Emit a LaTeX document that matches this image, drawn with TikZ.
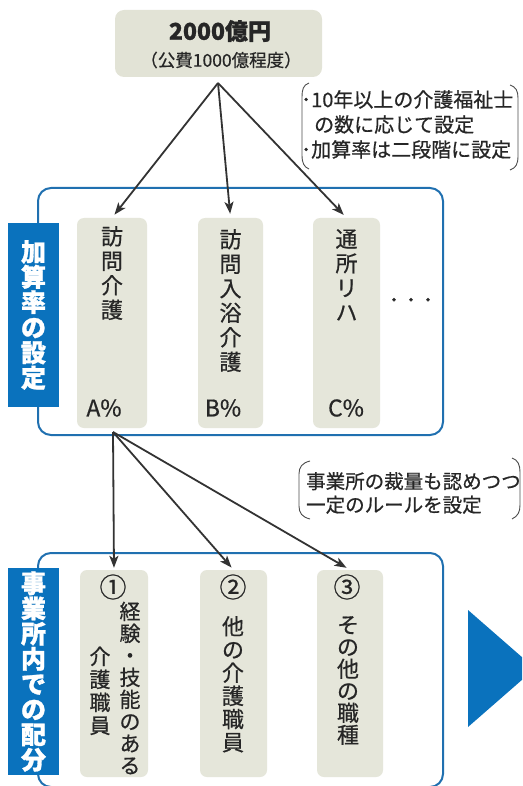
\documentclass[tikz,border=0pt]{standalone}
\usepackage{fontspec}
\setmainfont{Noto Sans CJK JP}[FakeBold=0.6,BoldFeatures={FakeBold=1.2}]
\usetikzlibrary{arrows.meta}
\definecolor{lblue}{HTML}{0A72BD}
\definecolor{bline}{HTML}{2070B0}
\definecolor{gfill}{HTML}{E5E6DA}
\definecolor{tfill}{HTML}{E2E3D6}
\definecolor{ink}{HTML}{262626}
\begin{document}
\begin{tikzpicture}[x=1pt,y=-1pt,
  bluebox/.style={draw=bline,line width=2pt,rounded corners=13pt,fill=white},
  labelbox/.style={fill=lblue,text=white,align=center,inner sep=0pt,
     font=\bfseries\fontsize{25}{25.2}\selectfont},
  colbox/.style={fill=gfill,rounded corners=7pt,inner sep=0pt},
  coltext/.style={anchor=north,align=center,inner sep=0pt,text=ink,
     font=\fontsize{22}{24.5}\selectfont},
  pct/.style={inner sep=0pt,text=ink,font=\fontsize{23}{23}\selectfont},
  circ/.style={inner sep=0pt,text=ink,font=\fontsize{27}{27}\selectfont},
  note/.style={anchor=north west,align=left,inner sep=0pt,text=ink},
  brk/.style={draw=black!70,line width=0.9pt},
  arr/.style={draw=black!80,line width=1.8pt,-{Stealth[length=12pt,width=9pt,inset=3pt]}}]
\useasboundingbox (0,0) rectangle (522,786);
\clip (0,0) rectangle (522,786);

% top box
\node[fill=tfill,rounded corners=9pt,minimum width=207pt,minimum height=67pt,inner sep=0pt] (top) at (218.5,43.5) {};
\node[inner sep=0pt,text=ink,font=\bfseries\fontsize{23}{23}\selectfont] (tt1) at (220,31) {2000億円};
\node[inner sep=0pt,text=ink,font=\fontsize{17.5}{17.5}\selectfont] (tt2) at (221,60) {（公費1000億程度）};
\coordinate (apex) at (218,83);

% note 1
\node[note,font=\fontsize{20}{25}\selectfont] (n1) at (301,90) {･10年以上の介護福祉士\\\hspace*{13pt}の数に応じて設定\\･加算率は二段階に設定};
\draw[brk] (309,83) .. controls (303,85) and (302,90) .. (302,97) -- (302,155) .. controls (302,163) and (304,167) .. (309,169);
\draw[brk] (510,85) .. controls (516,87) and (518,91) .. (518,98) -- (518,156) .. controls (518,164) and (516,168) .. (510,170);

% upper section
\node[bluebox,minimum width=405pt,minimum height=247pt] (ub) at (240.5,311.5) {};
\node[labelbox,minimum width=51pt,minimum height=184pt] (ul) at (33.5,315) {加\\算\\率\\の\\設\\定};
\node[colbox,minimum width=70pt,minimum height=210pt] (c1) at (112,323) {};
\node[colbox,minimum width=65pt,minimum height=210pt] (c2) at (230.5,323) {};
\node[colbox,minimum width=67pt,minimum height=210pt] (c3) at (346.5,323) {};
\node[coltext] (t1) at (112,226) {訪\\問\\介\\護};
\node[coltext] (t2) at (230.5,229) {訪\\問\\入\\浴\\介\\護};
\node[coltext] (t3) at (346.5,229) {通\\所\\リ\\ハ};
\node[pct] (p1) at (104,408) {A\%};
\node[pct] (p2) at (223,408) {B\%};
\node[pct] (p3) at (346,408) {C\%};
\node[inner sep=0pt,text=ink,font=\fontsize{17}{17}\selectfont] (dots) at (411,302) {・・・};

\draw[arr,shorten >=4pt] (apex) -- (c1.north);
\draw[arr,shorten >=4pt] (apex) -- (c2.north);
\draw[arr,shorten >=4pt] (apex) -- (c3.north);

% note 2
\node[note,font=\fontsize{19.5}{23.5}\selectfont] (n2) at (306,472) {事業所の裁量も認めつつ\\一定のルールを設定};
\draw[brk] (310,461) .. controls (302,463) and (299,467) .. (299,474) -- (299,506) .. controls (299,513) and (302,517) .. (310,519);
\draw[brk] (512,458) .. controls (518,460) and (520,465) .. (520,472) -- (520,505) .. controls (520,512) and (518,516) .. (512,519);

% lower section
\node[bluebox,minimum width=405pt,minimum height=234pt] (lb) at (240.5,670) {};
\node[labelbox,minimum width=51pt,minimum height=207pt] (ll) at (33.5,671.5) {事\\業\\所\\内\\で\\の\\配\\分};
\node[colbox,minimum width=68pt,minimum height=207pt] (d1) at (114,673.5) {};
\node[colbox,minimum width=67pt,minimum height=207pt] (d2) at (233.5,673.5) {};
\node[colbox,minimum width=66pt,minimum height=207pt] (d3) at (350,673.5) {};
\node[circ] (o1) at (113,587) {①};
\node[circ] (o2) at (233,587) {②};
\node[circ] (o3) at (347,587) {③};
\node[coltext,font=\fontsize{21}{22}\selectfont] (u1a) at (130,601.5) {経\\験\\・\\技\\能\\の\\あ\\る};
\node[coltext,font=\fontsize{21}{23}\selectfont] (u1b) at (100,646.5) {介\\護\\職\\員};
\node[coltext,font=\fontsize{22}{23.2}\selectfont] (u2) at (233,616) {他\\の\\介\\護\\職\\員};
\node[coltext,font=\fontsize{22}{22}\selectfont] (u3) at (348,616) {そ\\の\\他\\の\\職\\種};

\coordinate (lo) at (113,432);
\draw[arr,shorten >=2pt] (lo) -- (d1.north);
\draw[arr,shorten >=3pt] (lo) -- (d2.north);
\draw[arr,shorten >=4pt] (lo) -- (d3.north);

% big arrow
\fill[lblue] (468,610) -- (468,727) -- (535,668.5) -- cycle;
\end{tikzpicture}
\end{document}
